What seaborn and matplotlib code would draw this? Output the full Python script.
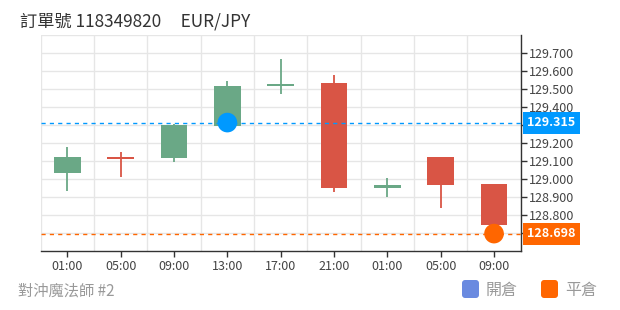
import matplotlib
matplotlib.use("Agg")
import matplotlib.pyplot as plt
import seaborn as sns
import numpy as np
import pandas as pd
from matplotlib.patches import Rectangle, FancyBboxPatch
from matplotlib.transforms import blended_transform_factory

# ---- data ----
times = ["01:00", "05:00", "09:00", "13:00", "17:00", "21:00", "01:00", "05:00", "09:00"]
opens = [129.037, 129.126, 129.117, 129.298, 129.518, 129.533, 128.952, 129.124, 128.974]
closes = [129.124, 129.115, 129.303, 129.520, 129.530, 128.950, 128.966, 128.970, 128.744]
highs = [129.178, 129.152, 129.305, 129.548, 129.668, 129.581, 129.007, 129.124, 128.975]
lows = [128.933, 129.011, 129.098, 129.298, 129.476, 128.928, 128.900, 128.842, 128.733]
open_idx, open_price = 3, 129.315
close_idx, close_price = 8, 128.698
yticks = [128.7, 128.8, 128.9, 129.0, 129.1, 129.2, 129.3, 129.4, 129.5, 129.6, 129.7]
title_text = "訂單號 118349820     EUR/JPY"
footer_text = "對沖魔法師 #2"
legend_labels = ["開倉", "平倉"]

df = pd.DataFrame({"t": range(len(times)), "open": opens, "close": closes,
                   "high": highs, "low": lows})
df["up"] = df["close"] >= df["open"]

sns.set_theme(style="white")
plt.rcParams["font.family"] = ["Noto Sans CJK TC", "DejaVu Sans"]

GREEN = "#6aa886"
RED = "#d95545"
BLUE = "#0099ff"
ORANGE = "#ff6600"
GRID = "#e6e6e6"

fig = plt.figure(figsize=(6.2, 3.1), dpi=100)
ax = fig.add_axes([40.7 / 620, 1 - 250.7 / 310, 480 / 620, (250.7 - 35.3) / 310])

colors = [GREEN if u else RED for u in df["up"]]
# wicks
ax.vlines(df["t"], df["low"], df["high"], colors=colors, linewidth=1.3, zorder=3)
# bodies
bottoms = np.minimum(df["open"], df["close"])
heights = np.maximum(np.abs(df["close"] - df["open"]), 0.008)
ax.bar(df["t"], heights, bottom=bottoms, width=0.5, color=colors, zorder=4, linewidth=0)

# reference lines
ax.axhline(open_price, color=BLUE, linestyle=(0, (3, 3)), linewidth=1, zorder=5)
ax.axhline(close_price, color=ORANGE, linestyle=(0, (3, 3)), linewidth=1, zorder=5)

# markers
mk = pd.DataFrame({"t": [open_idx, close_idx], "p": [open_price, close_price],
                   "k": ["open", "close"]})
sns.scatterplot(data=mk, x="t", y="p", hue="k", palette={"open": BLUE, "close": ORANGE},
                s=200, edgecolor="none", legend=False, zorder=6, ax=ax)

ax.set_xlim(-0.5, len(times) - 0.5)
ax.set_ylim(128.603, 129.8)

ax.set_xticks(range(len(times)))
ax.set_xticklabels(times)
ax.set_xticks(np.arange(-0.5, len(times), 1), minor=True)
ax.set_yticks(yticks)
ylabels = [f"{v:.3f}" for v in yticks]
ax.set_yticklabels(ylabels)
ax.yaxis.tick_right()
ax.set_xlabel("")
ax.set_ylabel("")

ax.grid(False)
ax.grid(True, which="minor", axis="x", color=GRID, linewidth=1)
ax.grid(True, which="major", axis="y", color=GRID, linewidth=1)
ax.axhline(129.8, color=GRID, linewidth=1, zorder=1)
for s in ["left", "top"]:
    ax.spines[s].set_visible(False)
for s in ["right", "bottom"]:
    ax.spines[s].set_visible(True)
    ax.spines[s].set_color("#333333")
    ax.spines[s].set_linewidth(1)
ax.tick_params(axis="x", which="major", bottom=True, length=4, width=1, color="#333333",
               labelsize=9, labelcolor="#444444", pad=3)
ax.tick_params(axis="x", which="minor", bottom=False, length=0)
ax.tick_params(axis="y", right=True, left=False, length=4, width=1, color="#333333",
               labelsize=9, labelcolor="#444444", pad=2)
for lbl in ax.get_yticklabels():
    if lbl.get_text() in ("128.700", "129.300"):
        lbl.set_visible(False)

# price boxes on right axis
tr = blended_transform_factory(ax.transAxes, ax.transData)
half = 11 / 180.0
for price, col in [(open_price, BLUE), (close_price, ORANGE)]:
    ax.add_patch(Rectangle((1.0042, price - half), 0.1193, 2 * half, transform=tr,
                           facecolor=col, edgecolor="none", clip_on=False, zorder=10))
    ax.text(1.0042 + 0.1193 / 2, price, f"{price:.3f}", transform=tr, ha="center",
            va="center", color="white", fontsize=9, fontweight="bold", zorder=11,
            clip_on=False)

# title and footer
fig.text(20 / 620, 1 - 21 / 310, title_text, ha="left", va="center", fontsize=12.4,
         color="#333333")
fig.text(18 / 620, 1 - 291 / 310, footer_text, ha="left", va="center", fontsize=11,
         color="#999999")

# legend
for x0, col, lab in [(462, "#6a8ae0", legend_labels[0]), (541, ORANGE, legend_labels[1])]:
    p = FancyBboxPatch((x0 / 620, 12 / 310), 17 / 620, 18 / 310,
                       boxstyle="round,pad=0,rounding_size=0.005",
                       transform=fig.transFigure, facecolor=col, edgecolor="none",
                       mutation_aspect=2.0)
    fig.add_artist(p)
    fig.text((x0 + 24) / 620, 1 - 290 / 310, lab, ha="left", va="center", fontsize=11.5,
             color="#999999")

fig.savefig("out.png", dpi=100)
